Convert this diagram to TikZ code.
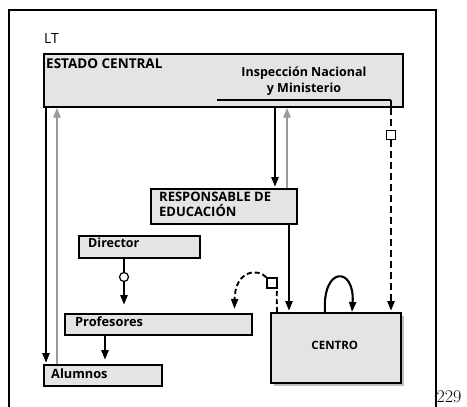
\documentclass[tikz,border=0pt]{standalone}
\usepackage{fontspec}
\newfontfamily\osans{Open Sans}
\usetikzlibrary{arrows.meta,calc,shadows}
\definecolor{boxgray}{HTML}{E4E4E4}
\definecolor{linegray}{HTML}{9A9A9A}
\tikzset{
  box/.style={draw=black, line width=1.5pt, fill=boxgray, anchor=north west, inner sep=0pt},
  lbl/.style={anchor=north west, inner sep=0pt, font=\osans\bfseries\fontsize{13.5}{15}\selectfont, align=left},
  flow/.style={line width=2.8pt, -{Triangle[length=10pt,width=7pt]}, shorten >=1pt},
  back/.style={line width=2.3pt, draw=linegray, -{Triangle[length=10pt,width=7pt]}},
  dflow/.style={flow, dash pattern=on 7pt off 4pt},
  thin/.style={line width=1.5pt},
  sq/.style={draw=black, fill=white, line width=1.2pt, minimum size=8.5pt, inner sep=0pt},
  ring/.style={circle, draw=black, fill=white, line width=1.2pt, minimum size=9pt, inner sep=0pt}
}
\begin{document}
\begin{tikzpicture}[x=1pt,y=-1pt]
\useasboundingbox (0,0) rectangle (467,407);
% frame of the figure
\draw[line width=2.2pt] (9,407) -- (9,10) -- (436,10) -- (436,407);
\node[anchor=south west, inner sep=0pt, font=\osans\fontsize{14}{16}\selectfont] (lt) at (44,44) {LT};
\node[anchor=south west, inner sep=0pt, font=\fontsize{18}{20}\selectfont] (page) at (436.5,403) {229};

% boxes
\node[box, minimum width=359pt, minimum height=53pt] (estado) at (43,53) {};
\node[lbl] (estadoT) at ([shift={(3,6)}]estado.north west) {ESTADO CENTRAL};
\node[anchor=center, inner sep=0pt, align=center, font=\osans\fontsize{12.5}{16}\selectfont\bfseries] (insp) at (304,81) {Inspección Nacional\\y Ministerio};

\node[box, minimum width=146pt, minimum height=35pt] (resp) at (150,188) {};
\node[lbl, font=\osans\bfseries\fontsize{13}{15.5}\selectfont] (respT) at ([shift={(9,3.5)}]resp.north west) {RESPONSABLE DE\\EDUCACIÓN};

\node[box, minimum width=121pt, minimum height=22pt] (director) at (78,235) {};
\node[lbl, font=\osans\bfseries\fontsize{12.5}{14}\selectfont] (directorT) at ([shift={(10,3)}]director.north west) {Director};

\node[box, minimum width=187pt, minimum height=21pt] (prof) at (64,313) {};
\node[lbl, font=\osans\bfseries\fontsize{12.8}{14}\selectfont] (profT) at ([shift={(11,3.5)}]prof.north west) {Profesores};

\node[box, minimum width=118pt, minimum height=21pt] (alum) at (43,364) {};
\node[lbl, font=\osans\bfseries\fontsize{12.8}{14}\selectfont] (alumT) at ([shift={(8,4.5)}]alum.north west) {Alumnos};

\node[box, minimum width=130pt, minimum height=70pt,
      drop shadow={shadow xshift=3pt, shadow yshift=-3pt, fill=black!25, opacity=1}] (centro) at (270,312) {};
\node[font=\osans\bfseries\fontsize{11.5}{13}\selectfont, inner sep=0pt] (centroT) at ($(centro.center)+(-1,-2)$) {CENTRO};

% line under the inspection label
\coordinate (inspL) at (217,100);
\coordinate (inspR) at (391,100);
\draw[thin] (inspL) -- (inspR);
\draw[line width=2.6pt] (inspR) -- (inspR |- estado.south);

% left pair: state <-> pupils
\draw[flow] ($(estado.south west)+(3,0)$) -- ($(alum.north west)+(3,0)$);
\draw[back] ($(alum.north west)+(14,0)$) -- ($(estado.south west)+(14,0)$);

% state <-> head of education
\draw[flow] ($(resp.north west |- estado.south)+(125,0)$) -- ($(resp.north west)+(125,0)$);
\draw[back] ($(resp.north west)+(137,0)$) -- ($(resp.north west |- estado.south)+(137,0)$);

% head of education -> school
\draw[flow] ($(resp.south west)+(139,0)$) -- ($(centro.north west)+(19,0)$);

% inspection -> school (dashed)
\node[sq] (sqA) at (391,135) {};
\draw[line width=2.8pt, dash pattern=on 7pt off 4pt] (inspR |- estado.south) -- (sqA);
\draw[dflow] (sqA) -- ($(centro.north west)+(121,0)$);

% school self-loop
\draw[line width=2.1pt, -{Triangle[length=10pt,width=7pt]}]
  ($(centro.north west)+(55,0)$) .. controls (322,266) and (355,266) .. ($(centro.north west)+(82,0)$);

% school -> teachers (dashed arc)
\node[sq, minimum size=10pt] (sqB) at (272,283) {};
\draw[line width=1.9pt, dash pattern=on 5pt off 3pt] ($(centro.north west)+(7,0)$) .. controls (277,300) and (276,293) .. (sqB.south east);
\draw[line width=1.9pt, dash pattern=on 5pt off 3pt, -{Triangle[length=10pt,width=7pt]}]
  (sqB.north west) .. controls (258,268) and (235,270) .. ($(prof.north east)+(-18,-4)$);

% director -> teachers -> pupils
\node[ring] (ringD) at (124,277) {};
\draw[line width=2.8pt] ($(director.south west)+(46,0)$) -- (ringD);
\draw[flow] (ringD) -- ($(prof.north west)+(60,-7)$);
\draw[flow] ($(prof.south west)+(41,0)$) -- ($(alum.north west)+(62,-3)$);
\end{tikzpicture}
\end{document}
